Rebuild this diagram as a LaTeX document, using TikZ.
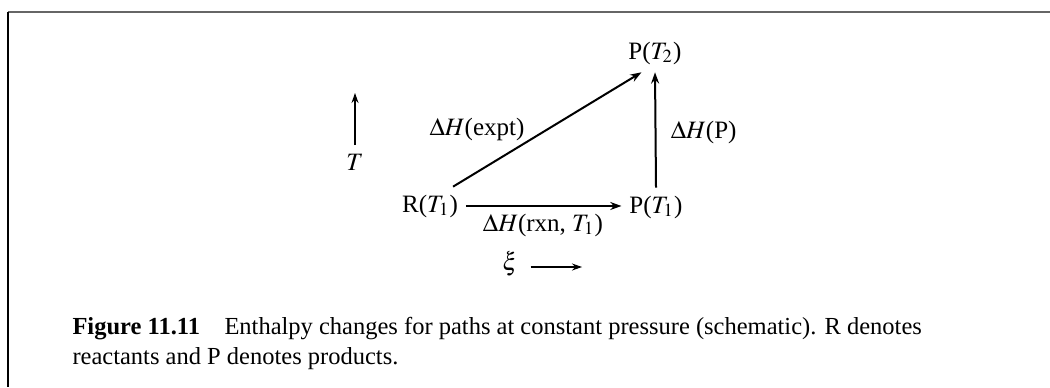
\documentclass[tikz,border=0pt]{standalone}
\usepackage{mathptmx}
\usepackage[no-math]{fontspec}
\setmainfont{Liberation Serif}
\usetikzlibrary{calc,arrows.meta}

\tikzset{
  state/.style={inner sep=3pt, anchor=base},
  path/.style={line width=0.8pt, -{Stealth[length=4.5pt,width=3.2pt]}},
  axis/.style={line width=0.45pt, -{Stealth[length=4pt,width=2.8pt]}},
  frameline/.style={line width=0.8pt}
}

\begin{document}
\begin{tikzpicture}[x=0.4pt,y=0.4pt]
    \useasboundingbox (0,0) rectangle (1050,-387);
    % Frame
    \draw[frameline, black!60] (8,-12) -- (1050,-12);
    \draw[frameline, black] (8,-12) -- (8,-387);

    % States
    \node[state] (R1) at (430,-212) {R($T_1$)};
    \node[state] (P1) at (656,-213) {P($T_1$)};
    \node[state] (P2) at (655,-59) {P($T_2$)};

    % Paths
    \draw[path] (R1.east) -- (R1.east -| P1.west);
    \draw[path] (P1.north) -- (P2.south);
    \draw[path] (R1.40) -- (P2.235);
    \node (lexpt) at (477,-129) {$\Delta H$(expt)};
    \node[anchor=west] (lprod) at (662,-132) {$\Delta H$(P)};
    \node (lrxn) at (543,-225) {$\Delta H$(rxn, $T_1$)};

    % Axes
    \coordinate (Tlow) at (355,-145);
    \coordinate (Thigh) at (355,-93);
    \draw[axis] (Tlow) -- (Thigh);
    \node (T) at (355,-162) {$T$};
    \node (xi) at (510,-264) {$\xi$};
    \coordinate (xiend) at (582,-267);
    \draw[axis] (xi.east |- xiend) ++(4,0) -- (xiend);

    % Caption
    \node[anchor=base west, align=left, inner sep=0pt, font=\fontsize{9.8}{12}\selectfont] (caption) at (72,-364)
      {\textbf{Figure 11.11}\hspace{1em}Enthalpy changes for paths at constant pressure (schematic). R denotes\\
       reactants and P denotes products.};
\end{tikzpicture}
\end{document}
